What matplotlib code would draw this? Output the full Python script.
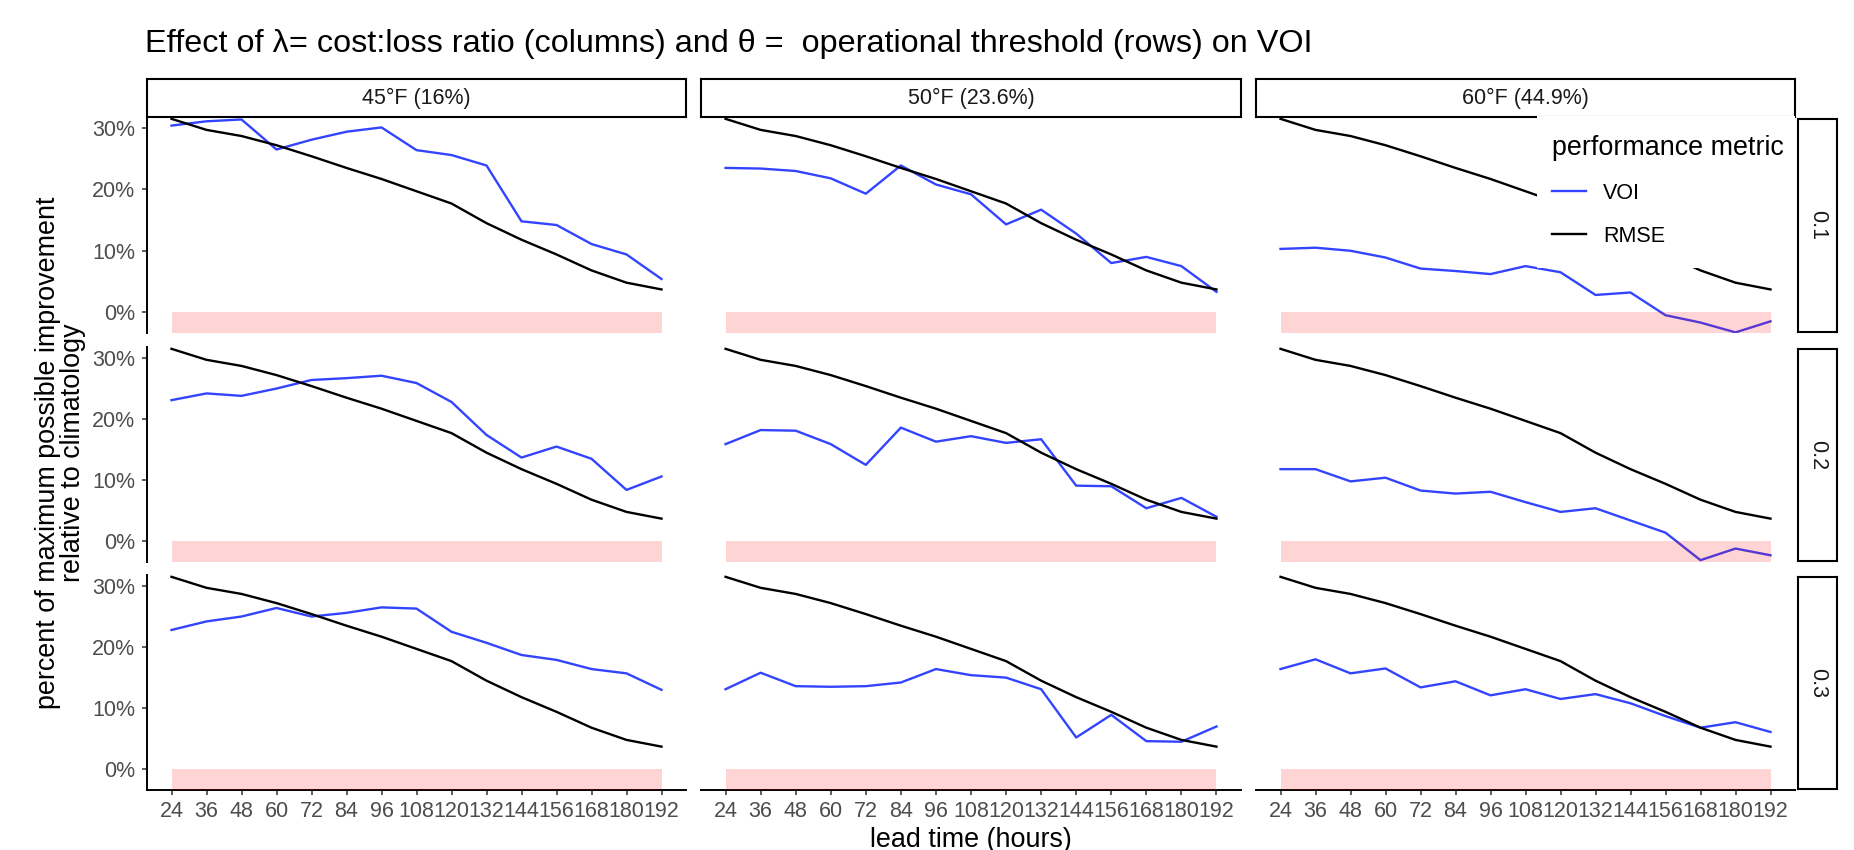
import numpy as np
import matplotlib.pyplot as plt
from matplotlib.patches import Rectangle

plt.rcParams['font.family'] = ['Liberation Sans', 'DejaVu Sans']

# horizonte de pronóstico (horas)
lead_time = [24, 36, 48, 60, 72, 84, 96, 108, 120, 132, 144, 156, 168, 180, 192]
col_labels = ['45°F (16%)', '50°F (23.6%)', '60°F (44.9%)']
row_labels = ['0.1', '0.2', '0.3']
y_ticks = [0, 10, 20, 30]

# RMSE es la misma curva en todos los paneles (%)
rmse = [31.5, 29.7, 28.7, 27.2, 25.4, 23.5, 21.7, 19.7, 17.7, 14.5, 11.8, 9.4, 6.8, 4.8, 3.7]

# VOI por fila (umbral) y columna (cost:loss), en %
voi_r1_c1 = [30.4, 31.1, 31.4, 26.5, 28.1, 29.4, 30.1, 26.4, 25.6, 23.9, 14.8, 14.2, 11.1, 9.4, 5.4]
voi_r1_c2 = [23.5, 23.4, 23.0, 21.8, 19.3, 23.9, 20.8, 19.2, 14.3, 16.7, 12.8, 8.0, 9.0, 7.5, 3.3]
voi_r1_c3 = [10.3, 10.5, 10.0, 8.9, 7.1, 6.7, 6.2, 7.5, 6.5, 2.8, 3.2, -0.5, -1.7, -3.3, -1.5]
voi_r2_c1 = [23.1, 24.2, 23.8, 25.0, 26.4, 26.7, 27.1, 25.9, 22.8, 17.4, 13.7, 15.5, 13.5, 8.4, 10.6]
voi_r2_c2 = [15.9, 18.2, 18.1, 15.9, 12.5, 18.6, 16.3, 17.2, 16.1, 16.7, 9.1, 9.0, 5.4, 7.1, 4.0]
voi_r2_c3 = [11.8, 11.8, 9.8, 10.4, 8.3, 7.8, 8.1, 6.4, 4.8, 5.4, 3.4, 1.4, -3.1, -1.2, -2.3]
voi_r3_c1 = [22.8, 24.2, 25.0, 26.4, 25.0, 25.6, 26.5, 26.3, 22.5, 20.7, 18.7, 17.9, 16.4, 15.7, 13.0]
voi_r3_c2 = [13.1, 15.8, 13.6, 13.5, 13.6, 14.2, 16.4, 15.4, 15.0, 13.1, 5.2, 8.9, 4.6, 4.5, 7.0]
voi_r3_c3 = [16.4, 18.0, 15.7, 16.5, 13.4, 14.4, 12.1, 13.1, 11.5, 12.3, 10.8, 8.7, 6.8, 7.7, 6.1]

voi = [[voi_r1_c1, voi_r1_c2, voi_r1_c3],
       [voi_r2_c1, voi_r2_c2, voi_r2_c3],
       [voi_r3_c1, voi_r3_c2, voi_r3_c3]]

W, H = 1854, 850
fig = plt.figure(figsize=(W / 100, H / 100), dpi=100)

def caja(x0, x1, y0, y1):
    # rectángulo en píxeles (origen arriba a la izquierda) -> fracción de figura
    return [x0 / W, 1 - y1 / H, (x1 - x0) / W, (y1 - y0) / H]

col_x = [(147, 686), (701, 1241), (1256, 1795)]
row_y = [(117, 333), (347, 562), (575, 790)]

ylo, yhi = -3.4, 31.8
xpad = 0.05 * (lead_time[-1] - lead_time[0])

for i in range(3):
    for j in range(3):
        ax = fig.add_axes(caja(col_x[j][0], col_x[j][1], row_y[i][0], row_y[i][1]))
        l_voi, = ax.plot(lead_time, voi[i][j], color='#3344ff', lw=1.7, label='VOI')
        l_rmse, = ax.plot(lead_time, rmse, color='black', lw=1.7, label='RMSE')
        ax.add_patch(Rectangle((lead_time[0], ylo - 5), lead_time[-1] - lead_time[0], 5 - ylo,
                               facecolor='red', alpha=0.17, edgecolor='none', zorder=3))
        ax.set_xlim(lead_time[0] - xpad, lead_time[-1] + xpad)
        ax.set_ylim(ylo, yhi)
        ax.set_xticks(lead_time)
        ax.set_yticks(y_ticks)
        ax.set_yticklabels([f'{v}%' for v in y_ticks])
        for s in ['top', 'right']:
            ax.spines[s].set_visible(False)
        ax.spines['left'].set_visible(j == 0)
        ax.spines['bottom'].set_visible(i == 2)
        for s in ['left', 'bottom']:
            ax.spines[s].set_linewidth(1.4)
        ax.tick_params(axis='y', left=(j == 0), labelleft=(j == 0), length=3.6, width=1.1,
                       labelsize=15.5, labelcolor='#4D4D4D', color='#333333', pad=5)
        ax.tick_params(axis='x', bottom=(i == 2), labelbottom=(i == 2), length=3.6, width=1.1,
                       labelsize=15.5, labelcolor='#4D4D4D', color='#333333', pad=4)

# tiras de las columnas
for j in range(3):
    st = fig.add_axes(caja(col_x[j][0], col_x[j][1], 79, 117))
    st.set_xticks([]); st.set_yticks([])
    for s in st.spines.values():
        s.set_linewidth(1.5)
    st.text(0.5, 0.5, col_labels[j], ha='center', va='center', fontsize=15.5,
            color='#1A1A1A', transform=st.transAxes)

# tiras de las filas
for i in range(3):
    st = fig.add_axes(caja(1798, 1837, row_y[i][0] + 2, row_y[i][1] - 1))
    st.set_xticks([]); st.set_yticks([])
    for s in st.spines.values():
        s.set_linewidth(1.5)
    st.text(0.5, 0.5, row_labels[i], ha='center', va='center', fontsize=15.5,
            color='#1A1A1A', rotation=-90, transform=st.transAxes)

# fondo blanco de la leyenda (tapa parte del panel superior derecho)
r = caja(1537, 1795, 116, 268)
fig.add_artist(Rectangle((r[0], r[1]), r[2], r[3], transform=fig.transFigure,
                         facecolor='white', edgecolor='none', zorder=4))

leg = fig.legend(handles=[l_voi, l_rmse], title='performance metric',
                 loc='upper left', bbox_to_anchor=(1546 / W, 1 - 129 / H),
                 fontsize=15.5, title_fontsize=19.4, frameon=False,
                 handlelength=1.55, handletextpad=0.8, labelspacing=1.0,
                 borderpad=0.3, borderaxespad=0, alignment='left')
leg.set_zorder(5)

fig.text(145 / W, 1 - 52 / H,
         'Effect of λ= cost:loss ratio (columns) and θ =  operational threshold (rows) on VOI',
         fontsize=23.3, ha='left', va='baseline')
fig.text(971 / W, 1 - 840 / H, 'lead time (hours)', fontsize=19.4, ha='center', va='center')
fig.text(61 / W, 1 - 453 / H,
         'percent of maximum possible improvement\nrelative to climatology',
         fontsize=19.4, ha='center', va='center', rotation=90, linespacing=0.95)

plt.savefig('out.png', dpi=100)
